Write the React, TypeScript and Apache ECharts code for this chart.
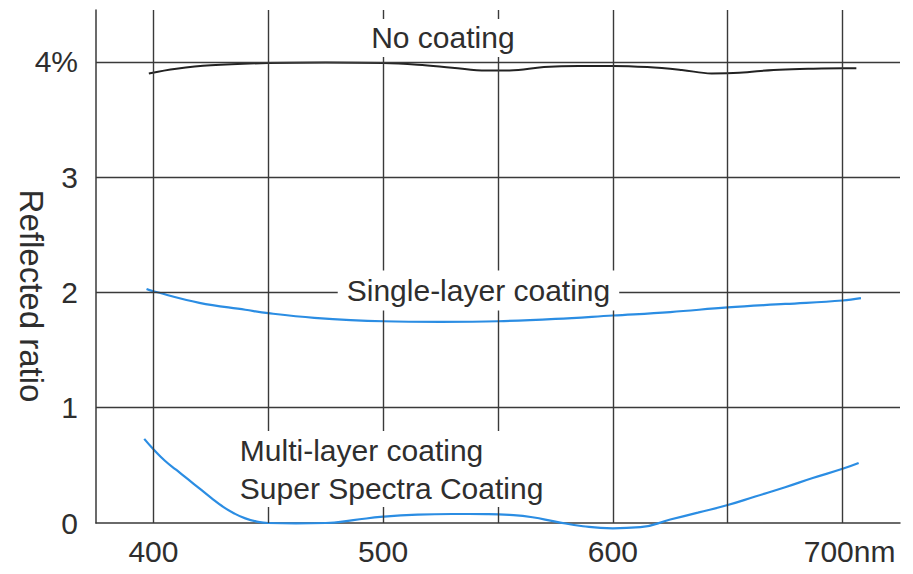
import React, { useEffect, useRef } from "react";
import * as echarts from "echarts";

// Axis / grid values
const gridWavelengths = [400, 450, 500, 550, 600, 650, 700];
const gridRatios = [1, 2, 3, 4];
const xTickLabels = [400, 500, 600, 700];
const yTickLabels = [0, 1, 2, 3, 4];

// No coating curve
const noCoatingNm = [398, 410, 425, 450, 475, 500, 515, 530, 545, 555, 570, 585, 600, 615, 630, 643, 655, 670, 685, 700, 706];
const noCoatingRatio = [3.9, 3.94, 3.97, 3.99, 3.995, 3.99, 3.975, 3.95, 3.925, 3.925, 3.955, 3.965, 3.965, 3.955, 3.93, 3.9, 3.905, 3.93, 3.94, 3.945, 3.945];

// Single-layer coating curve
const singleNm = [397, 400, 420, 440, 450, 470, 500, 525, 550, 575, 600, 625, 650, 675, 700, 708];
const singleRatio = [2.03, 2.01, 1.91, 1.85, 1.82, 1.78, 1.75, 1.745, 1.75, 1.77, 1.8, 1.83, 1.87, 1.9, 1.93, 1.95];

// Multi-layer (Super Spectra) coating curve
const multiNm = [396, 400, 405, 410, 415, 420, 425, 430, 435, 440, 445, 450, 462, 475, 487, 500, 515, 530, 545, 555, 565, 575, 587, 600, 612, 625, 637, 650, 662, 675, 687, 700, 707];
const multiRatio = [0.73, 0.64, 0.54, 0.46, 0.38, 0.3, 0.22, 0.145, 0.085, 0.04, 0.012, 0.0, -0.003, 0.0, 0.025, 0.055, 0.073, 0.078, 0.077, 0.07, 0.05, 0.012, -0.028, -0.046, -0.036, 0.03, 0.09, 0.156, 0.23, 0.31, 0.39, 0.47, 0.52];

// Curve labels (text and anchor in data units)
const labelTexts = ["No coating", "Single-layer coating", "Multi-layer coating\nSuper Spectra Coating"];
const labelNm = [526, 541.5, 435];
const labelRatio = [4.208, 2.017, 0.468];

const yAxisTitle = "Reflected ratio";

const FONT = "'Liberation Sans', Arial, Helvetica, sans-serif";
const TEXT = "#2e2e2e";
const LINE = "#3a3a3a";
const BLUE = "#2b8de3";

const zip = (xs: number[], ys: number[]) => xs.map((x, i) => [x, ys[i]]);

export default function App() {
  const ref = useRef<HTMLDivElement>(null);
  useEffect(() => {
    if (!ref.current) return;
    const chart = echarts.init(ref.current, null, { renderer: "svg" });
    const labelBase = {
      show: true,
      color: TEXT,
      opacity: 1,
      fontSize: 30,
      fontFamily: FONT,
      backgroundColor: "#fff",
    };
    chart.setOption({
      animation: false,
      backgroundColor: "#fff",
      grid: { left: 96, right: 13, top: 10, bottom: 51, containLabel: false },
      xAxis: {
        type: "value",
        min: 375,
        max: 725,
        axisLine: { show: true, lineStyle: { color: LINE, width: 1.5 } },
        axisTick: { show: false },
        splitLine: { show: false },
        axisLabel: {
          customValues: xTickLabels,
          color: TEXT,
          fontSize: 30,
          fontFamily: FONT,
          margin: 13,
          formatter: (v: number) => (v === 700 ? "{r|700nm}" : String(v)),
          rich: { r: { fontSize: 30, fontFamily: FONT, color: TEXT, padding: [0, 0, 0, 14] } },
        },
      },
      yAxis: {
        type: "value",
        min: 0,
        max: 4.45,
        axisLine: { show: true, lineStyle: { color: LINE, width: 1.5 } },
        axisTick: { show: false },
        splitLine: { show: false },
        axisLabel: {
          customValues: yTickLabels,
          color: TEXT,
          fontSize: 30,
          fontFamily: FONT,
          margin: 18,
          formatter: (v: number) => (v === 4 ? "4%" : String(v)),
        },
      },
      graphic: [
        {
          type: "text",
          x: 31,
          y: 296,
          rotation: -Math.PI / 2,
          style: {
            text: yAxisTitle,
            fill: TEXT,
            font: `33px ${FONT}`,
            align: "center",
            verticalAlign: "middle",
          },
        },
      ],
      series: [
        {
          type: "scatter",
          z: 1,
          silent: true,
          symbolSize: 0,
          data: [[400, 0]],
          markLine: {
            silent: true,
            symbol: "none",
            label: { show: false },
            lineStyle: { color: LINE, width: 1.4, type: "solid" },
            data: [
              ...gridWavelengths.map((v) => ({ xAxis: v })),
              ...gridRatios.map((v) => ({ yAxis: v })),
            ],
          },
        },
        {
          type: "line",
          name: "No coating",
          z: 3,
          silent: true,
          clip: false,
          showSymbol: false,
          smooth: 0.4,
          lineStyle: { color: "#222", width: 2 },
          data: zip(noCoatingNm, noCoatingRatio),
        },
        {
          type: "line",
          name: "Single-layer coating",
          z: 3,
          silent: true,
          clip: false,
          showSymbol: false,
          smooth: 0.4,
          lineStyle: { color: BLUE, width: 2.2 },
          data: zip(singleNm, singleRatio),
        },
        {
          type: "line",
          name: "Multi-layer coating",
          z: 3,
          silent: true,
          clip: false,
          showSymbol: false,
          smooth: 0.5,
          lineStyle: { color: BLUE, width: 2.2 },
          data: zip(multiNm, multiRatio),
        },
        {
          type: "scatter",
          z: 10,
          silent: true,
          symbolSize: 0,
          itemStyle: { opacity: 1 },
          data: labelTexts.map((t, i) => ({
            value: [labelNm[i], labelRatio[i]],
            name: t,
            label:
              i === 2
                ? { ...labelBase, position: "right", distance: 0, align: "left", lineHeight: 38, padding: [0, 6], formatter: t }
                : { ...labelBase, position: "inside", lineHeight: 30, padding: i === 0 ? [4, 8] : [5, 9], formatter: t },
          })),
        },
      ],
    });
    return () => chart.dispose();
  }, []);
  return (
    <div
      ref={ref}
      style={{ position: "absolute", left: 0, top: 0, width: 913, height: 574, background: "#fff" }}
    />
  );
}
